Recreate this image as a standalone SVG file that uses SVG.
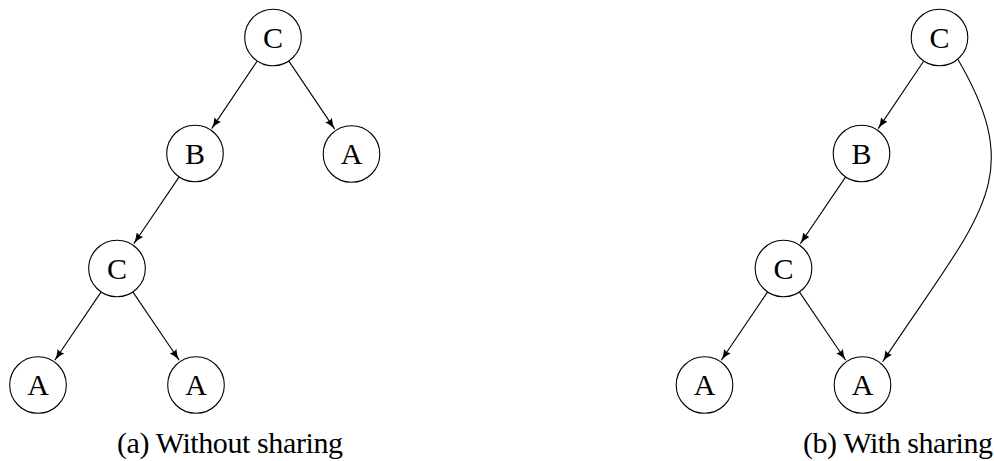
<svg xmlns="http://www.w3.org/2000/svg" width="994" height="461" viewBox="0 0 994 461">
<style>
  .node circle { fill: #fff; stroke: #000; stroke-width: 1.1; }
  .node text, .cap { font-family: "Liberation Serif", "Times New Roman", serif; font-size: 30px; fill: #000; }
  .node text { text-anchor: middle; }
  .edge { fill: none; stroke: #000; stroke-width: 1.1; marker-end: url(#arr); }
</style>
<defs>
  <marker id="arr" viewBox="0 0 11 8" refX="11" refY="4" markerWidth="11" markerHeight="8" markerUnits="userSpaceOnUse" orient="auto">
    <path d="M0,0 Q5,3 11,4 Q5,5 0,8 Q2,4 0,0 z" fill="#000"/>
  </marker>
</defs>
<rect width="994" height="461" fill="#fff"/>
<g id="connectors">
  <line class="edge" x1="257.1" y1="61.2" x2="211.7" y2="128.6"/>
  <line class="edge" x1="288.9" y1="61.1" x2="334.7" y2="129.1"/>
  <line class="edge" x1="179" y1="177.1" x2="133.8" y2="243.7"/>
  <line class="edge" x1="101" y1="292.1" x2="54.8" y2="360.2"/>
  <line class="edge" x1="133" y1="292.1" x2="179.2" y2="360.2"/>
  <line class="edge" x1="923.6" y1="61.2" x2="878.2" y2="128.6"/>
  <line class="edge" x1="845.5" y1="177.1" x2="800.3" y2="243.7"/>
  <line class="edge" x1="767.5" y1="292.1" x2="721.3" y2="360.2"/>
  <line class="edge" x1="799.5" y1="292.1" x2="845.7" y2="360.2"/>
  <path class="edge" d="M957.7,59 C1027.7,179.4 981.7,212.3 882.7,361.7"/>
</g>
<g id="a-C1" class="node"><circle cx="273" cy="37.5" r="28.3"/><text x="273" y="47.5">C</text></g>
<g id="a-B" class="node"><circle cx="195" cy="153.5" r="28.3"/><text x="195" y="163.5">B</text></g>
<g id="a-A1" class="node"><circle cx="351.5" cy="154" r="28.3"/><text x="351.5" y="164">A</text></g>
<g id="a-C2" class="node"><circle cx="117" cy="268.5" r="28.3"/><text x="117" y="278.5">C</text></g>
<g id="a-A2" class="node"><circle cx="38" cy="385" r="28.3"/><text x="38" y="395">A</text></g>
<g id="a-A3" class="node"><circle cx="196" cy="385" r="28.3"/><text x="196" y="395">A</text></g>
<g id="b-C1" class="node"><circle cx="939.5" cy="37.5" r="28.3"/><text x="939.5" y="47.5">C</text></g>
<g id="b-B" class="node"><circle cx="861.5" cy="153.5" r="28.3"/><text x="861.5" y="163.5">B</text></g>
<g id="b-C2" class="node"><circle cx="783.5" cy="268.5" r="28.3"/><text x="783.5" y="278.5">C</text></g>
<g id="b-A1" class="node"><circle cx="704.5" cy="385" r="28.3"/><text x="704.5" y="395">A</text></g>
<g id="b-A2" class="node"><circle cx="862.5" cy="385" r="28.3"/><text x="862.5" y="395">A</text></g>
<text class="cap" x="117" y="453" textLength="226" lengthAdjust="spacing">(a) Without sharing</text>
<text class="cap" x="803" y="453" textLength="190" lengthAdjust="spacing">(b) With sharing</text>
</svg>
